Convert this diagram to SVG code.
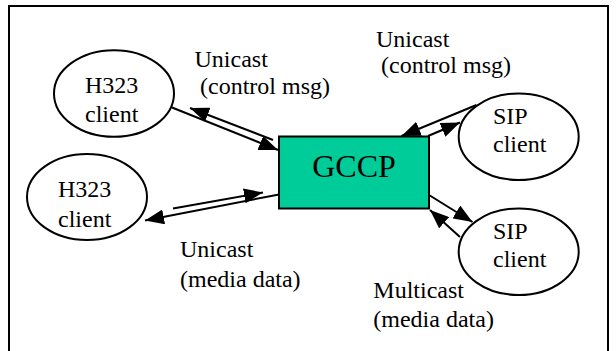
<svg xmlns="http://www.w3.org/2000/svg" width="616" height="351" viewBox="0 0 616 351">
  <style>
    .bg { fill: #ffffff; }
    .frame { fill: none; stroke: #000000; stroke-width: 2; }
    .client { fill: #ffffff; stroke: #000000; stroke-width: 2; }
    .server { fill: #00cc99; stroke: #000000; stroke-width: 2; }
    .lbl { font-family: "Liberation Serif", "Times New Roman", serif; font-size: 24px; fill: #000000; }
    .big { font-family: "Liberation Serif", "Times New Roman", serif; font-size: 32px; fill: #000000; }
    .link { fill: none; stroke: #000000; stroke-width: 2; marker-end: url(#head); }
  </style>
  <defs>
    <marker id="head" markerUnits="userSpaceOnUse" viewBox="0 0 19 15" markerWidth="19" markerHeight="15" refX="19" refY="7.5" orient="auto">
      <path d="M0,0 L19,7.5 L0,15 z" fill="#000000"/>
    </marker>
  </defs>

  <rect class="bg" x="0" y="0" width="616" height="351"/>
  <path class="frame" d="M9,351 V6 H608 V351"/>

  <!-- links: each pair carries traffic in both directions -->
  <g id="connectors">
    <path class="link" d="M172,107.5 L278,150"/>
    <path class="link" d="M273,140 L190,108"/>
    <path class="link" d="M173,208.5 L263,192.5"/>
    <path class="link" d="M279,194.5 L145,220.5"/>
    <path class="link" d="M476.5,105 L401.5,136"/>
    <path class="link" d="M428,136 L460,122.5"/>
    <path class="link" d="M429,195 L472.5,222"/>
    <path class="link" d="M460,237 L430,210"/>
  </g>

  <g id="h323-top">
    <ellipse class="client" cx="114" cy="93.5" rx="60" ry="43.3"/>
    <text class="lbl" x="85" y="92.5">H323</text>
    <text class="lbl" x="85" y="122">client</text>
  </g>

  <g id="h323-bottom">
    <ellipse class="client" cx="87" cy="197" rx="60" ry="43"/>
    <text class="lbl" x="58" y="196.5">H323</text>
    <text class="lbl" x="58" y="226.5">client</text>
  </g>

  <g id="sip-top">
    <ellipse class="client" cx="518.7" cy="136.7" rx="60" ry="43.3"/>
    <text class="lbl" x="493" y="124">SIP</text>
    <text class="lbl" x="493" y="152.3">client</text>
  </g>

  <g id="sip-bottom">
    <ellipse class="client" cx="518.7" cy="251.7" rx="60" ry="43.3"/>
    <text class="lbl" x="493" y="239.3">SIP</text>
    <text class="lbl" x="493" y="266.7">client</text>
  </g>

  <g id="gccp">
    <rect class="server" x="279" y="136.5" width="150" height="72"/>
    <text class="big" x="354" y="177" text-anchor="middle">GCCP</text>
  </g>

  <g id="labels">
    <text class="lbl" x="194.5" y="67">Unicast</text>
    <text class="lbl" x="200" y="94.3">(control msg)</text>
    <text class="lbl" x="376" y="46.7">Unicast</text>
    <text class="lbl" x="381" y="72.7">(control msg)</text>
    <text class="lbl" x="180" y="256.7">Unicast</text>
    <text class="lbl" x="180" y="286.7">(media data)</text>
    <text class="lbl" x="373.3" y="297.7">Multicast</text>
    <text class="lbl" x="373.3" y="326.7">(media data)</text>
  </g>
</svg>
